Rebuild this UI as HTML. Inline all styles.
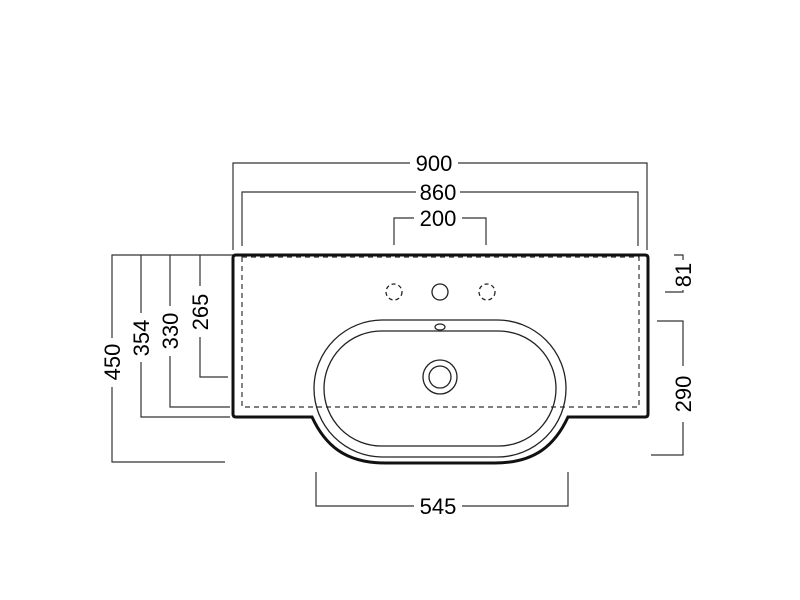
<!DOCTYPE html>
<html><head><style>body{margin:0;background:#fff}svg{display:block}</style></head><body>
<svg width="800" height="600" viewBox="0 0 800 600" xmlns="http://www.w3.org/2000/svg" font-family="Liberation Sans, sans-serif" font-size="22" fill="#000">
<g stroke="#333" stroke-width="1.2" fill="none">
<path d="M233 250 V163 H410 M458 163 H647 V250"/>
<path d="M242 246 V192 H416 M460 192 H638 V246"/>
<path d="M394 245 V218 H414 M462 218 H486 V245"/>
<path d="M316 472 V506 H414 M462 506 H568 V472"/>
<path d="M233 255 H112 V338 M112 387 V462 H225"/>
<path d="M141 255 V313 M141 362 V417 H230"/>
<path d="M170 255 V306 M170 356 V407 H230"/>
<path d="M200 255 V286 M200 337 V377 H228"/>
<path d="M674 255 H683 V260 M683 290 V292 H665"/>
<path d="M657 321 H683 V366 M683 422 V455 H651"/>
</g>
<path d="M236 255 H645 Q648 255 648 258 V414 Q648 417 645 417 H568 C555 445 535 463 495 463 H385 C345 463 325 445 312 417 H236 Q233 417 233 414 V258 Q233 255 236 255 Z" fill="none" stroke="#111" stroke-width="3"/>
<rect x="242" y="257" width="397" height="150" fill="none" stroke="#333" stroke-width="1.2" stroke-dasharray="5,4"/>
<rect x="314" y="320" width="252" height="137" rx="68.5" fill="none" stroke="#222" stroke-width="1.3"/>
<rect x="324" y="331" width="232" height="115" rx="57.5" fill="none" stroke="#222" stroke-width="1.3"/>
<circle cx="440" cy="377" r="17" fill="none" stroke="#222" stroke-width="1.3"/>
<circle cx="440" cy="377" r="11" fill="none" stroke="#222" stroke-width="1.3"/>
<ellipse cx="440" cy="327" rx="5" ry="3" fill="none" stroke="#222" stroke-width="1.2"/>
<circle cx="440" cy="292" r="8" fill="none" stroke="#222" stroke-width="1.3"/>
<circle cx="394" cy="292" r="8" fill="none" stroke="#222" stroke-width="1.3" stroke-dasharray="4,3"/>
<circle cx="487" cy="292" r="8" fill="none" stroke="#222" stroke-width="1.3" stroke-dasharray="4,3"/>
<g text-anchor="middle">
<text x="434" y="171">900</text>
<text x="438" y="200">860</text>
<text x="438" y="226">200</text>
<text x="438" y="514">545</text>
<text transform="translate(120 362) rotate(-90)">450</text>
<text transform="translate(149 338) rotate(-90)">354</text>
<text transform="translate(178 331) rotate(-90)">330</text>
<text transform="translate(208 312) rotate(-90)">265</text>
<text transform="translate(691 275) rotate(-90)">81</text>
<text transform="translate(691 394) rotate(-90)">290</text>
</g>
</svg>
</body></html>
